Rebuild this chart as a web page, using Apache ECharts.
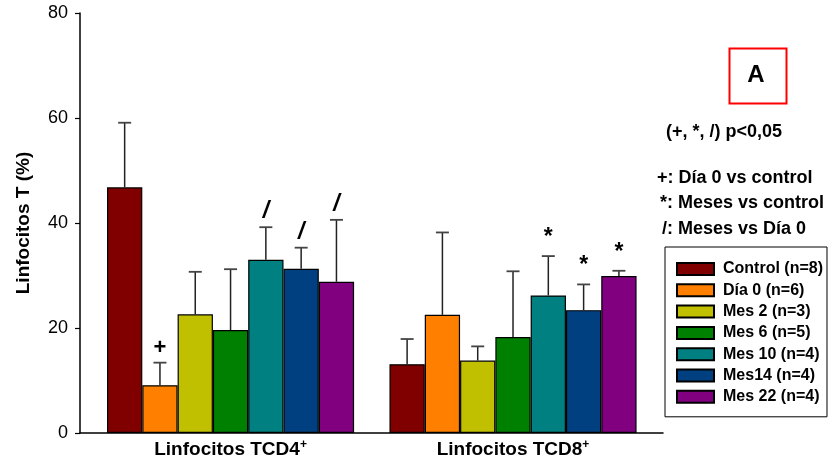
<!DOCTYPE html>
<html>
<head>
<meta charset="utf-8">
<script src="https://cdn.jsdelivr.net/npm/echarts@6/dist/echarts.min.js"></script>
<style>
html,body{margin:0;padding:0;background:#fff;}
#chart{width:831px;height:466px;}
</style>
</head>
<body>
<div id="chart"></div>
<script>
// ---- data ----
var categories = ['Linfocitos TCD4', 'Linfocitos TCD8'];
var groups = ['Control (n=8)', 'Día 0 (n=6)', 'Mes 2 (n=3)', 'Mes 6 (n=5)', 'Mes 10 (n=4)', 'Mes14 (n=4)', 'Mes 22 (n=4)'];
var cd4Mean = [46.8, 9.1, 22.6, 19.6, 33.0, 31.3, 28.8];
var cd4Err  = [12.3, 4.3, 8.1, 11.6, 6.2, 4.0, 11.8];
var cd8Mean = [13.1, 22.5, 13.8, 18.3, 26.2, 23.4, 29.9];
var cd8Err  = [4.8, 15.7, 2.7, 12.5, 7.5, 4.9, 1.0];
var cd4Marks = ['', '+', '', '', '/', '/', '/'];
var cd8Marks = ['', '', '', '', '*', '*', '*'];
var yTicks = [0, 20, 40, 60, 80];

// ---- style ----
var colors = ['#800000', '#ff8000', '#c0c000', '#008000', '#008080', '#004080', '#800080'];
var FONT = '"Liberation Sans", Arial, sans-serif';
var BAR_W = 35.3;

var chart = echarts.init(document.getElementById('chart'), null, {renderer: 'canvas'});

var series = groups.map(function (name, i) {
  return {
    name: name,
    type: 'bar',
    barWidth: BAR_W,
    barGap: '0%',
    itemStyle: {color: colors[i], borderColor: '#000', borderWidth: 1.2},
    emphasis: {disabled: true},
    data: [[0, cd4Mean[i]], [1, cd8Mean[i]]],
    z: 2
  };
});

var errData = [];
groups.forEach(function (g, i) {
  errData.push([0, i, cd4Mean[i], cd4Err[i], cd4Marks[i]]);
  errData.push([1, i, cd8Mean[i], cd8Err[i], cd8Marks[i]]);
});

series.push({
  type: 'custom',
  name: 'err',
  z: 5,
  silent: true,
  data: errData,
  encode: {x: 0, y: 2},
  renderItem: function (params, api) {
    var g = api.value(0), s = api.value(1), v = api.value(2), e = api.value(3);
    var mark = errData[params.dataIndex][4];
    var base = api.coord([g, v]);
    var top = api.coord([g, v + e]);
    var x = base[0] + (s - (groups.length - 1) / 2) * BAR_W;
    var children = [
      {type: 'line', shape: {x1: x, y1: base[1], x2: x, y2: top[1]}, style: {stroke: '#222', lineWidth: 1.5}},
      {type: 'line', shape: {x1: x - 6.5, y1: top[1], x2: x + 6.5, y2: top[1]}, style: {stroke: '#444', lineWidth: 1.8}}
    ];
    if (mark) {
      var isStar = mark === '*';
      children.push({
        type: 'text',
        style: {
          text: mark, x: x, y: top[1] - (isStar ? 7 : 4),
          align: 'center', verticalAlign: 'bottom',
          font: (mark === '/' ? 'italic bold 23px ' : (isStar ? 'bold 23px ' : 'bold 22px ')) + FONT,
          fill: '#000'
        }
      });
    }
    return {type: 'group', children: children};
  }
});

var option = {
  animation: false,
  backgroundColor: '#fff',
  grid: {left: 80, right: 168, top: 13, bottom: 33, containLabel: false},
  legend: {
    data: groups,
    orient: 'vertical',
    left: 665,
    top: 247,
    padding: [14, 4, 12, 11],
    itemWidth: 37,
    itemHeight: 12,
    itemGap: 5.3,
    borderColor: '#000',
    borderWidth: 1,
    icon: 'rect',
    selectedMode: false,
    textStyle: {fontFamily: FONT, fontWeight: 'bold', fontSize: 16, color: '#000', lineHeight: 16, padding: [0, 0, 0, 4]}
  },
  xAxis: {
    type: 'value',
    min: -0.533,
    max: 1.531,
    splitLine: {show: false},
    axisLine: {show: true, onZero: false, lineStyle: {color: '#000', width: 1.5}},
    axisTick: {show: false},
    axisLabel: {
      customValues: [0, 1],
      margin: 6,
      formatter: function (val) {
        var idx = Math.round(val);
        return '{a|' + categories[idx] + '}{s|+}';
      },
      rich: {
        a: {fontFamily: FONT, fontWeight: 'bold', fontSize: 19, color: '#000'},
        s: {fontFamily: FONT, fontWeight: 'bold', fontSize: 12, color: '#000', verticalAlign: 'top', padding: [0, 0, 9, 0]}
      }
    }
  },
  yAxis: {
    type: 'value',
    min: 0,
    max: 80,
    interval: 20,
    name: 'Linfocitos T (%)',
    nameLocation: 'middle',
    nameRotate: 90,
    nameGap: 47,
    nameTextStyle: {fontFamily: FONT, fontWeight: 'bold', fontSize: 19, color: '#000'},
    splitLine: {show: false},
    axisLine: {show: true, onZero: false, lineStyle: {color: '#000', width: 1.5}},
    axisTick: {show: true, inside: false, length: 5, lineStyle: {color: '#000', width: 1.2}},
    axisLabel: {fontFamily: FONT, fontSize: 18, color: '#000', margin: 12,
      formatter: function (v) { return yTicks.indexOf(v) >= 0 ? String(v) : ''; }}
  },
  graphic: [
    {type: 'rect', left: 727, top: 46, shape: {width: 57, height: 55}, style: {fill: 'none', stroke: '#ff0000', lineWidth: 2}},
    {type: 'text', x: 756, y: 75, style: {text: 'A', font: 'bold 24px ' + FONT, fill: '#000', align: 'center', verticalAlign: 'middle'}},
    {type: 'text', x: 666, y: 132, style: {text: '(+, *, /) p<0,05', font: 'bold 18px ' + FONT, fill: '#000', verticalAlign: 'middle'}},
    {type: 'text', x: 657, y: 178, style: {text: '+: Día 0 vs control', font: 'bold 18px ' + FONT, fill: '#000', verticalAlign: 'middle'}},
    {type: 'text', x: 660, y: 203.5, style: {text: '*: Meses vs control', font: 'bold 18px ' + FONT, fill: '#000', verticalAlign: 'middle'}},
    {type: 'text', x: 662, y: 229, style: {text: '/: Meses vs Día 0', font: 'bold 18px ' + FONT, fill: '#000', verticalAlign: 'middle'}}
  ],
  series: series
};

chart.setOption(option);
</script>
</body>
</html>
